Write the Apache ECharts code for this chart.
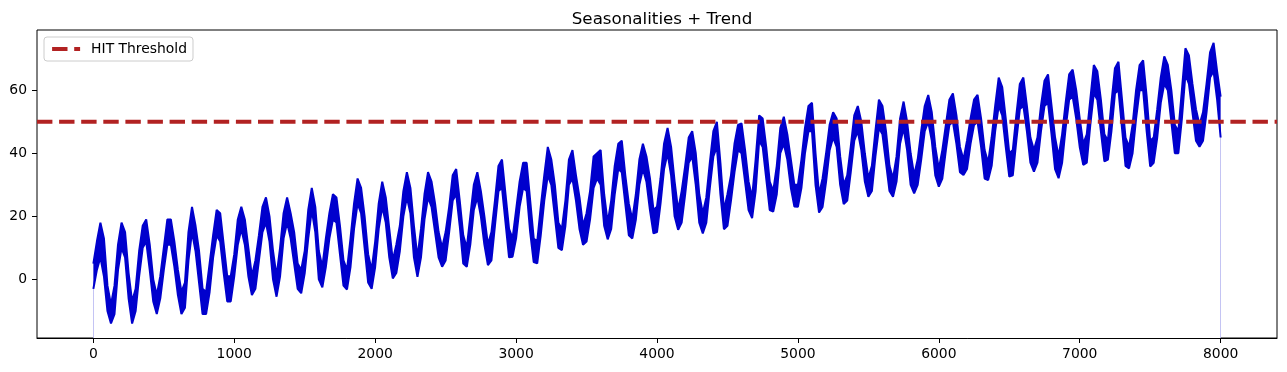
<!DOCTYPE html>
<html><head><meta charset="utf-8">
<script src="https://cdn.jsdelivr.net/npm/echarts@6/dist/echarts.min.js"></script>
<style>html,body{margin:0;padding:0;background:#fff}#c{width:1287px;height:372px}</style>
</head><body><div id="c"></div>
<script>
// time step between readings (x units), readings at x = 0..8000
const xStep = 25;
// upper edge of the noisy band at each step
const bandTop = [
  5, 12, 18, 13, -2, -8, -2, 11,
  18, 15, 2, -7, -3, 9, 17, 19,
  11, 0, -5, 1, 10, 19, 19, 12,
  3, -4, -1, 15, 23, 17, 9, -3,
  -4, 5, 14, 22, 21, 11, 1, 1,
  8, 19, 23, 19, 10, 1, 6, 14,
  23, 26, 20, 9, 1, 10, 21, 26,
  21, 15, 5, 3, 9, 22, 29, 23,
  9, 4, 13, 21, 27, 26, 17, 6,
  3, 13, 24, 32, 29, 20, 8, 3,
  12, 24, 31, 26, 16, 6, 11, 17,
  28, 34, 29, 17, 7, 16, 27, 34,
  31, 24, 15, 10, 15, 23, 33, 35,
  25, 14, 10, 20, 30, 34, 28, 20,
  11, 15, 25, 36, 38, 27, 16, 13,
  22, 31, 37, 37, 25, 13, 12, 23,
  33, 42, 38, 30, 18, 16, 25, 38,
  41, 33, 26, 17, 21, 28, 39, 40,
  41, 27, 18, 25, 36, 43, 44, 33,
  24, 19, 27, 38, 43, 39, 32, 22,
  23, 32, 43, 48, 42, 31, 22, 28,
  36, 45, 47, 40, 27, 21, 26, 37,
  47, 50, 37, 22, 27, 33, 43, 49,
  49.5, 41, 31, 26, 38, 52, 51, 42,
  31, 28, 36, 48, 51.6, 46, 38, 30,
  30, 38, 48, 55, 56, 40, 27, 32,
  40, 49, 53, 51, 39, 30, 33, 42,
  52, 55, 50, 40, 32, 36, 47, 57,
  55, 47, 36, 32, 39, 51, 56.4, 50,
  40, 33, 38, 47, 55, 58.5, 53, 42,
  35, 41, 49, 57, 59, 52, 42, 38,
  44, 51, 57, 58.5, 51, 41, 37, 45,
  55, 64, 61, 51, 40, 41, 52, 62,
  64, 55, 45, 41, 45, 55, 63, 65,
  55, 45, 39, 46, 56, 65, 66.5, 60,
  51, 43, 46, 57, 68, 66, 57, 46,
  44, 56, 67, 69, 57, 45, 42, 49,
  60, 68, 69.5, 58, 44, 45, 54, 64,
  70.7, 68, 60, 49, 47, 60, 73.3, 71,
  62, 54, 49, 53, 62, 72, 75, 66,
  58
];
// lower edge of the noisy band at each step
const bandBottom = [
  -3, 3, 7, 1, -10, -14, -11, 3,
  10, 7, -6, -14, -10, 1, 10, 12,
  3, -7, -11, -6, 3, 11, 11, 4,
  -5, -11, -9, 6, 15, 9, -1, -11,
  -11, -4, 7, 14, 12, 2, -7, -7,
  1, 11, 16, 11, 1, -5, -3, 6,
  15, 18, 12, 0, -5.5, 1, 13, 18,
  13, 5, -3, -4.4, 2, 13, 22, 15,
  0, -2.5, 4, 13, 19, 18, 8, -2,
  -3.2, 4, 16, 24, 21, 10, -1, -3,
  4, 16, 23, 18, 7, 0.3, 2, 9,
  20, 26, 21, 7, 0.8, 7, 19, 26,
  23, 15, 7, 4, 6, 15, 25, 27,
  17, 5, 4, 11, 22, 26, 20, 11,
  4.5, 6, 17, 28, 29, 18, 7, 7.2,
  13, 23, 29, 28, 15, 5.5, 5.1, 14,
  25, 33, 30, 20, 10, 9.3, 17, 30,
  32, 25, 16, 11, 12, 19, 29, 32,
  30, 17, 12.7, 16, 27, 35, 34, 24,
  14, 13, 19, 30, 35, 31, 22, 14.6,
  15, 24, 35, 40, 33, 20, 15.7, 18,
  27, 37, 39, 30, 18, 14.6, 18, 29,
  39, 42, 27, 15.9, 17, 25, 34, 41,
  40, 31, 22, 19.4, 28, 44, 42, 32,
  22, 21.5, 27, 40, 43, 38, 29, 23.1,
  23, 29, 40, 47, 47, 30, 21.2, 23,
  31, 41, 45, 42, 30, 23.9, 25, 34,
  44, 47, 41, 31, 26.2, 28, 39, 48,
  46, 37, 28, 26.2, 31, 43, 48, 41,
  30, 27.3, 30, 38, 47, 50, 44, 33,
  29.4, 32, 41, 49, 50, 43, 34, 33.1,
  35, 43, 49, 50, 42, 32, 31.5, 36,
  47, 55, 52, 42, 32.6, 33, 44, 54,
  55, 47, 37, 34.2, 37, 47, 55, 56,
  46, 35, 32.1, 37, 48, 57, 58, 51,
  42, 36.3, 37, 49, 59, 57, 47, 37.4,
  38, 47, 59, 60, 48, 36, 35.2, 40,
  51, 60, 60, 47, 35.8, 37, 45, 56,
  62, 60, 50, 40, 40, 51, 65, 62,
  53, 44, 42.1, 44, 53, 64, 66, 57,
  45
];
const thresholdValue = 50;
const thresholdName = 'HIT Threshold';
const xTicks = [0, 1000, 2000, 3000, 4000, 5000, 6000, 7000, 8000];
const yTicks = [0, 20, 40, 60];
const xRange = [-400, 8400];
const yRange = [-18.6, 79.1];

const xAt = i => i * xStep;
const topData = bandTop.map((t, i) => [xAt(i), t]);
const bottomData = bandBottom.map((b, i) => [xAt(i), b]);
const thresholdData = [[xRange[0], thresholdValue], [xRange[1], thresholdValue]];

const BLUE = '#0000CD';
const FONT = 'DejaVu Sans';
const chart = echarts.init(document.getElementById('c'), null, {renderer: 'canvas'});
chart.setOption({
  animation: false,
  backgroundColor: '#fff',
  textStyle: {fontFamily: FONT},
  title: {
    text: 'Seasonalities + Trend',
    left: 657, top: 6, textAlign: 'center',
    textStyle: {fontFamily: FONT, fontSize: 16.7, fontWeight: 'normal', color: '#000'}
  },
  legend: {
    data: [thresholdName],
    left: 44, top: 37,
    padding: [5, 6, 5, 6],
    itemWidth: 28, itemHeight: 14,
    borderColor: '#cccccc', borderWidth: 1, borderRadius: 3,
    backgroundColor: 'rgba(255,255,255,0.8)',
    textStyle: {fontFamily: FONT, fontSize: 13.9, color: '#000', padding: [0, 0, 0, 6]},
    lineStyle: {width: 4.2, type: [15.4, 6.7], color: '#B22222'},
    itemStyle: {opacity: 0}
  },
  grid: {
    left: 37, top: 30, width: 1240, height: 308,
    show: true, borderColor: '#000', borderWidth: 1, backgroundColor: 'transparent'
  },
  xAxis: {
    type: 'value', min: xRange[0], max: xRange[1], z: 10,
    axisLine: {show: true, onZero: false, lineStyle: {color: '#000', width: 1}},
    splitLine: {show: false},
    axisTick: {show: true, length: 5, customValues: xTicks, lineStyle: {color: '#000', width: 1}},
    axisLabel: {customValues: xTicks, margin: 9, color: '#000', fontSize: 13.9, fontFamily: FONT,
      formatter: v => String(v)},
  },
  yAxis: {
    type: 'value', min: yRange[0], max: yRange[1],
    axisLine: {show: false, onZero: false},
    splitLine: {show: false},
    axisTick: {show: true, length: 5, customValues: yTicks, lineStyle: {color: '#000', width: 1}},
    axisLabel: {customValues: yTicks, margin: 10, color: '#000', fontSize: 13.9, fontFamily: FONT,
      formatter: v => String(v)},
  },
  series: [
    {
      // everything below the band's upper edge is filled blue ...
      name: 'Band top', type: 'line', data: topData,
      showSymbol: false, symbol: 'none', sampling: null,
      lineStyle: {color: BLUE, width: 2},
      areaStyle: {color: BLUE, opacity: 1, origin: 'start'},
      z: 2
    },
    {
      // ... then cleared below the lower edge, leaving the band between them
      name: 'Band bottom', type: 'line', data: bottomData,
      showSymbol: false, symbol: 'none', sampling: null,
      lineStyle: {color: BLUE, width: 2},
      areaStyle: {color: '#ffffff', opacity: 1, origin: 'start'},
      z: 2.5
    },
    {
      name: thresholdName, type: 'line', data: thresholdData,
      showSymbol: false, symbol: 'none',
      lineStyle: {color: '#B22222', width: 4.2, type: [15.4, 6.7]},
      itemStyle: {color: '#B22222'},
      z: 4
    }
  ]
});
</script>
</body></html>
